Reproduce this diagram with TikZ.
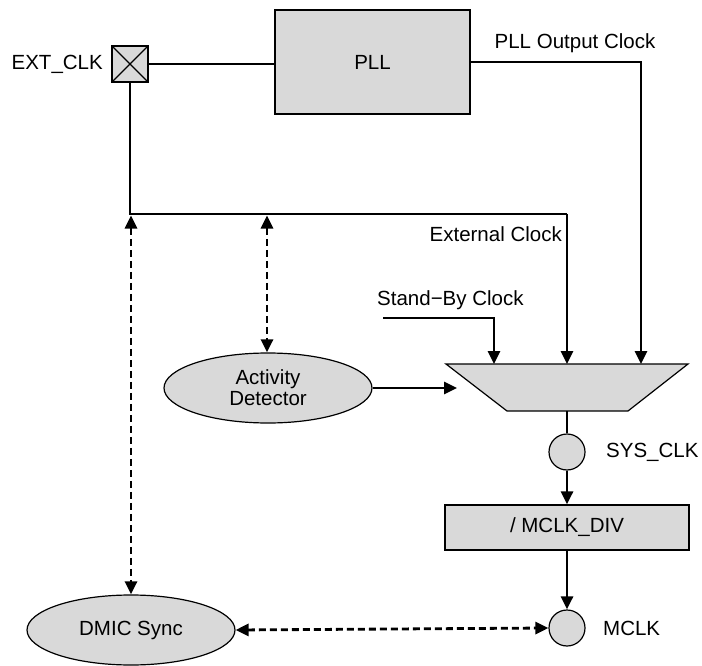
\documentclass[tikz,border=0pt]{standalone}
\usepackage{fontspec}
\setmainfont{Liberation Sans}
\usetikzlibrary{arrows.meta,shapes.geometric}
\definecolor{boxgray}{HTML}{D9D9D9}
\begin{document}
\begin{tikzpicture}[x=1pt,y=-1pt,
 every node/.style={font=\fontsize{20.5}{23}\selectfont},
 blk/.style={draw,fill=boxgray,line width=1.2pt,inner sep=0pt},
 ell/.style={ellipse,draw,fill=boxgray,line width=1.2pt,minimum width=208pt,minimum height=70pt,inner sep=0pt,align=center},
 circ/.style={circle,draw,fill=boxgray,line width=1.2pt,minimum size=36pt,inner sep=0pt},
 sig/.style={line width=2.8pt,-{Triangle[length=13pt,width=12pt]}},
 wire/.style={line width=1.8pt},
 dsh/.style={line width=2.8pt,dash pattern=on 7pt off 4pt,{Triangle[length=13pt,width=12pt]}-{Triangle[length=13pt,width=12pt]}},
 lbl/.style={inner sep=0pt}]
\useasboundingbox (0,0) rectangle (702,666);
% nodes
\node[blk,minimum size=36pt,path picture={\draw[line width=1.2pt] (path picture bounding box.north west) -- (path picture bounding box.south east) (path picture bounding box.south west) -- (path picture bounding box.north east);}] (ext) at (130,64) {};
\node[lbl,anchor=east] (extl) at (103,64) {EXT\_CLK};
\node[blk,minimum width=195pt,minimum height=104pt] (pll) at (372.5,62) {PLL};
\node[lbl] (pllo) at (575,43) {PLL Output Clock};
\node[lbl,anchor=east] (extc) at (562,234) {External Clock};
\node[lbl,anchor=west] (sbc) at (377,300) {Stand−By Clock};
\node[ell] (act) at (268,388) {Activity\\[-2pt]Detector};
\node[ell] (dmic) at (131,630) {DMIC Sync};
\draw[blk] (446,364) coordinate (mtl) -- (688,364) coordinate (mtr) -- (628,411) coordinate (mbr) -- (507,411) coordinate (mbl) -- cycle;
\coordinate (mbot) at (567,411);
\node[circ] (sys) at (567,452) {};
\node[lbl,anchor=west] (sysl) at (606,452) {SYS\_CLK};
\node[blk,minimum width=244pt,minimum height=45pt] (div) at (567,527.5) {/ MCLK\_DIV};
\node[circ] (mclk) at (567,628) {};
\node[lbl,anchor=west] (mclkl) at (603,628) {MCLK};
\coordinate (sbs) at (383,318);
\coordinate (bus) at (567,214);
% connectors
\draw[wire] (ext.east) -- (ext.east -| pll.west);
\draw[sig] (pll.east) -- (641,62) -- (641,364);
\draw[wire] (ext.south) |- (bus);
\draw[sig] (bus) -- (567,364);
\draw[sig] (sbs) -| (494,364);
\draw[sig] (act.east) -- (457,388);
\draw[line width=2.8pt] (mbot) -- (sys.north);
\draw[sig] (sys.south) -- (div.north);
\draw[sig] (div.south) -- (mclk.north);
\draw[dsh] (267,215.5) -- (act.north -| 267,0);
\draw[dsh] (131,215.5) -- (dmic.north);
\draw[dsh] (dmic.east) -- (mclk.west);
\end{tikzpicture}
\end{document}
